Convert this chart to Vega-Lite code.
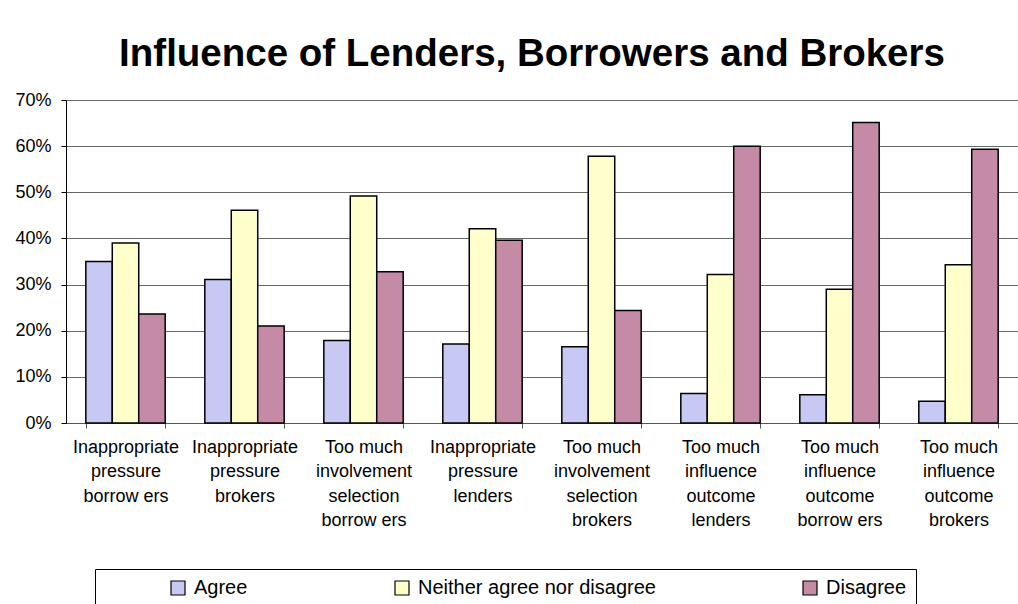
{
  "$schema": "https://vega.github.io/schema/vega-lite/v6.json",
  "width": 952,
  "height": 323,
  "autosize": {"type": "none"},
  "padding": {"left": 66, "top": 100, "right": 0, "bottom": 181},
  "background": "white",
  "title": {
    "text": "Influence of Lenders, Borrowers and Brokers",
    "font": "Liberation Sans",
    "fontSize": 38.5,
    "fontWeight": "bold",
    "color": "black",
    "anchor": "middle",
    "dx": -10,
    "offset": 17
  },
  "data": {
    "values": [
      {"category": "Inappropriate\npressure\nborrow ers", "response": "Agree", "value": 0.35},
      {"category": "Inappropriate\npressure\nborrow ers", "response": "Neither agree nor disagree", "value": 0.39},
      {"category": "Inappropriate\npressure\nborrow ers", "response": "Disagree", "value": 0.236},
      {"category": "Inappropriate\npressure\nbrokers", "response": "Agree", "value": 0.311},
      {"category": "Inappropriate\npressure\nbrokers", "response": "Neither agree nor disagree", "value": 0.461},
      {"category": "Inappropriate\npressure\nbrokers", "response": "Disagree", "value": 0.21},
      {"category": "Too much\ninvolvement\nselection\nborrow ers", "response": "Agree", "value": 0.179},
      {"category": "Too much\ninvolvement\nselection\nborrow ers", "response": "Neither agree nor disagree", "value": 0.492},
      {"category": "Too much\ninvolvement\nselection\nborrow ers", "response": "Disagree", "value": 0.328},
      {"category": "Inappropriate\npressure\nlenders", "response": "Agree", "value": 0.171},
      {"category": "Inappropriate\npressure\nlenders", "response": "Neither agree nor disagree", "value": 0.421},
      {"category": "Inappropriate\npressure\nlenders", "response": "Disagree", "value": 0.396},
      {"category": "Too much\ninvolvement\nselection\nbrokers", "response": "Agree", "value": 0.165},
      {"category": "Too much\ninvolvement\nselection\nbrokers", "response": "Neither agree nor disagree", "value": 0.578},
      {"category": "Too much\ninvolvement\nselection\nbrokers", "response": "Disagree", "value": 0.244},
      {"category": "Too much\ninfluence\noutcome\nlenders", "response": "Agree", "value": 0.064},
      {"category": "Too much\ninfluence\noutcome\nlenders", "response": "Neither agree nor disagree", "value": 0.322},
      {"category": "Too much\ninfluence\noutcome\nlenders", "response": "Disagree", "value": 0.6},
      {"category": "Too much\ninfluence\noutcome\nborrow ers", "response": "Agree", "value": 0.061},
      {"category": "Too much\ninfluence\noutcome\nborrow ers", "response": "Neither agree nor disagree", "value": 0.29},
      {"category": "Too much\ninfluence\noutcome\nborrow ers", "response": "Disagree", "value": 0.651},
      {"category": "Too much\ninfluence\noutcome\nbrokers", "response": "Agree", "value": 0.047},
      {"category": "Too much\ninfluence\noutcome\nbrokers", "response": "Neither agree nor disagree", "value": 0.343},
      {"category": "Too much\ninfluence\noutcome\nbrokers", "response": "Disagree", "value": 0.593}
    ]
  },
  "mark": {"type": "bar", "stroke": "black", "strokeWidth": 1.5},
  "encoding": {
    "x": {
      "field": "category",
      "type": "nominal",
      "sort": null,
      "scale": {"paddingInner": 0.333, "paddingOuter": 0.1665},
      "axis": {
        "title": null,
        "labelAngle": 0,
        "labelExpr": "split(datum.label, '\\n')",
        "labelFont": "Liberation Sans",
        "labelFontSize": 18,
        "labelColor": "black",
        "labelLineHeight": 24.5,
        "labelPadding": 10,
        "labelLimit": 200,
        "tickBand": "extent",
        "tickSize": 5,
        "tickColor": "#555555",
        "domainColor": "#555555",
        "grid": false
      }
    },
    "xOffset": {
      "field": "response",
      "type": "nominal",
      "sort": ["Agree", "Neither agree nor disagree", "Disagree"],
      "scale": {"paddingInner": 0, "paddingOuter": 0}
    },
    "y": {
      "field": "value",
      "type": "quantitative",
      "scale": {"domain": [0, 0.7], "nice": false},
      "axis": {
        "title": null,
        "format": ".0%",
        "values": [0, 0.1, 0.2, 0.3, 0.4, 0.5, 0.6, 0.7],
        "labelFont": "Liberation Sans",
        "labelFontSize": 18,
        "labelColor": "black",
        "labelPadding": 10,
        "tickSize": 5,
        "tickColor": "black",
        "domainColor": "black",
        "grid": true,
        "gridColor": "#666666",
        "gridWidth": 1
      }
    },
    "color": {
      "field": "response",
      "type": "nominal",
      "sort": ["Agree", "Neither agree nor disagree", "Disagree"],
      "scale": {
        "domain": ["Agree", "Neither agree nor disagree", "Disagree"],
        "range": ["#c8c8f4", "#ffffcc", "#c48aa6"]
      },
      "legend": {
        "title": null,
        "orient": "none",
        "legendX": 29,
        "legendY": 469,
        "direction": "horizontal",
        "columns": 3,
        "columnPadding": 80,
        "padding": 9,
        "strokeColor": "black",
        "fillColor": "white",
        "symbolType": "square",
        "symbolSize": 196,
        "symbolOffset": 64,
        "symbolStrokeColor": "black",
        "symbolStrokeWidth": 1.2,
        "symbolOpacity": 1,
        "labelFont": "Liberation Sans",
        "labelFontSize": 20,
        "labelColor": "black",
        "labelOffset": 6,
        "labelLimit": 400
      }
    }
  }
}
